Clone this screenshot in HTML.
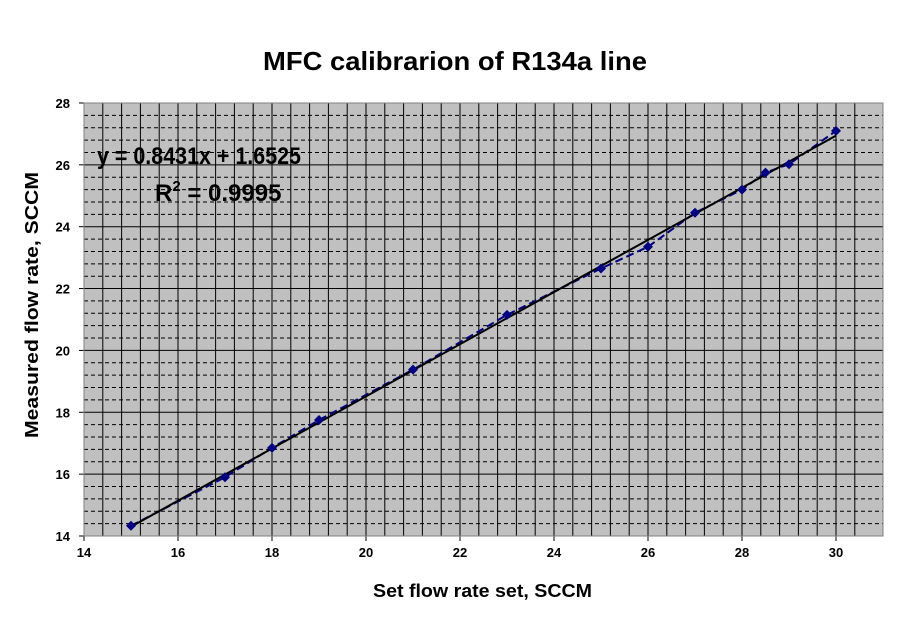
<!DOCTYPE html><html><head><style>body{margin:0;background:#fff}svg{display:block}text{font-family:"Liberation Sans",Arial,sans-serif}</style></head><body>
<svg width="911" height="623" xmlns="http://www.w3.org/2000/svg">
<rect width="911" height="623" fill="#fff"/>
<text x="263" y="70" font-size="26" font-weight="bold" textLength="384" lengthAdjust="spacingAndGlyphs">MFC calibrarion of R134a line</text>
<rect x="84" y="103" width="799" height="433" fill="#c0c0c0"/>
<g id="g"></g>
<rect x="84" y="103" width="799" height="433" fill="none" stroke="#808080"/>
<text x="97" y="164" font-size="24" font-weight="bold" textLength="204" lengthAdjust="spacingAndGlyphs">y = 0.8431x + 1.6525</text>
<text x="155" y="201" font-size="24" font-weight="bold">R<tspan dy="-10" font-size="15">2</tspan><tspan dy="10"> = 0.9995</tspan></text>
<text x="373" y="597" font-size="18" font-weight="bold" textLength="219" lengthAdjust="spacingAndGlyphs">Set flow rate set,  SCCM</text>
<text transform="translate(38,438) rotate(-90)" font-size="18" font-weight="bold" textLength="266" lengthAdjust="spacingAndGlyphs">Measured flow rate, SCCM</text>
</svg>
<script>
const X=v=>84+(v-14)*47,Y=v=>536-(v-14)*30.93;
let s='';
for(let i=1;i<42;i++){let x=X(14+i*0.4);if(x<883)s+=`<line x1="${x}" y1="103" x2="${x}" y2="536" stroke="#000" stroke-width="1"/>`;}
for(let i=1;i<35;i++){let v=14+i*0.4,y=Y(v);let maj=Math.abs(v/2-Math.round(v/2))<0.01;s+=`<line x1="84" y1="${y}" x2="883" y2="${y}" stroke="#000" stroke-width="1" ${maj?'':'stroke-dasharray="4,3"'}/>`;}
for(let v=14;v<=30;v+=2){s+=`<line x1="${X(v)}" y1="536" x2="${X(v)}" y2="541" stroke="#000"/><text x="${X(v)}" y="557" font-size="13" font-weight="bold" text-anchor="middle">${v}</text>`;}
for(let v=14;v<=28;v+=2){s+=`<line x1="79" y1="${Y(v)}" x2="84" y2="${Y(v)}" stroke="#000"/><text x="70" y="${Y(v)+5}" font-size="13" font-weight="bold" text-anchor="end">${v}</text>`;}
const d=[[15,14.33],[17,15.9],[18,16.85],[19,17.75],[21,19.38],[23,21.15],[25,22.65],[26,23.35],[27,24.45],[28,25.2],[28.5,25.75],[29,26.02],[30,27.1]];
s+=`<polyline fill="none" stroke="#000080" stroke-width="2" stroke-dasharray="8,4" points="${d.map(p=>X(p[0])+','+Y(p[1])).join(' ')}"/>`;
s+=`<line x1="${X(15)}" y1="${Y(0.8431*15+1.6525)}" x2="${X(30)}" y2="${Y(0.8431*30+1.6525)}" stroke="#000" stroke-width="2"/>`;
d.forEach(p=>{let x=X(p[0]),y=Y(p[1]);s+=`<polygon points="${x},${y-5} ${x+5},${y} ${x},${y+5} ${x-5},${y}" fill="#000080"/>`;});
document.getElementById('g').innerHTML=s;
</script>
</body></html>
